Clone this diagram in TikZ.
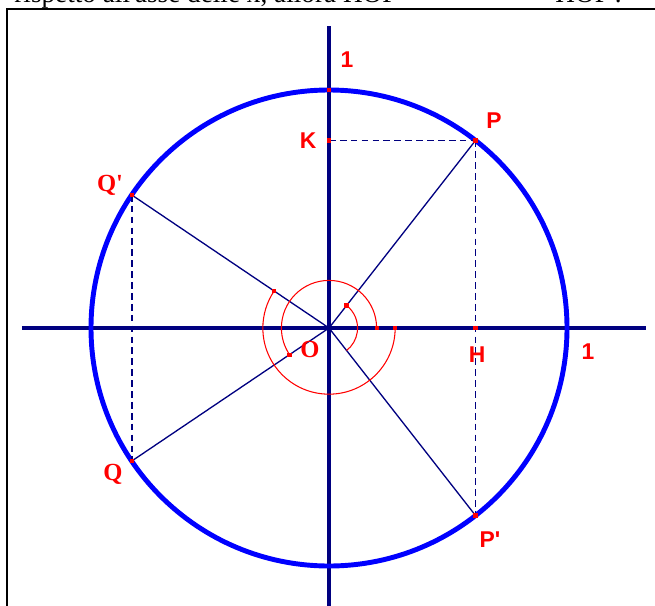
\documentclass[tikz,border=0pt]{standalone}
\usepackage{fontspec}
\setmainfont{Liberation Serif}
\setsansfont{Liberation Sans}
\usetikzlibrary{calc}

\definecolor{navyb}{RGB}{0,0,128}
\definecolor{circb}{RGB}{0,0,255}

\begin{document}
\begin{tikzpicture}[x=4.76cm,y=4.76cm,
    axis/.style={draw=navyb,line width=2.3pt},
    seg/.style={draw=navyb,line width=0.75pt},
    dsh/.style={draw=navyb,line width=1pt,dash pattern=on 3.8pt off 2.4pt},
    ang/.style={draw=red,line width=0.6pt},
    dotq/.style={fill=red,inner sep=0pt,minimum size=2.4pt},
    lab/.style={text=red,font=\sffamily\bfseries\fontsize{13}{15}\selectfont},
    labq/.style={text=red,font=\rmfamily\bfseries\fontsize{14}{16}\selectfont}]

    \clip (-1.3824,-1.1639) rectangle (1.3697,1.3782);

    % line of text cut by the top edge
    \node[anchor=base west,inner sep=0pt,font=\fontsize{15.5}{17}\selectfont] (txta) at (-1.3235,1.367) {rispetto all\textquotesingle asse delle x, allora HOP};
    \node[anchor=base west,inner sep=0pt,font=\fontsize{15.5}{17}\selectfont] (txtb) at (0.950,1.367) {HOP\textquotesingle.};

    % frame
    \draw[line width=1.1pt] (-1.353,-1.5) -- (-1.353,1.34) -- (1.5,1.34);

    \coordinate (O) at (0,0);
    \coordinate (P) at (52:1);
    \coordinate (P') at (-52:1);
    \coordinate (Q') at (146:1);
    \coordinate (Q) at (214:1);
    \coordinate (K) at (O|-P);
    \coordinate (H) at (P|-O);
    \coordinate (T) at (0,1);

    % axes and unit circle
    \draw[axis] (-1.29,0) -- (1.33,0);
    \draw[axis] (0,-1.3) -- (0,1.27);
    \draw[draw=circb,line width=2.8pt] (O) circle (1);

    % radii
    \draw[seg] (O) -- (P);
    \draw[seg] (O) -- (P');
    \draw[seg] (O) -- (Q');
    \draw[seg] (O) -- (Q);

    % projections
    \draw[dsh] (K) -- (P);
    \draw[dsh] (P) -- (H) -- (P');
    \draw[dsh] (Q') -- (Q);

    % angle arcs
    \draw[ang] (52:0.12) arc[start angle=52,end angle=-52,radius=0.12];
    \draw[ang] (0:0.2) arc[start angle=0,end angle=214,radius=0.2];
    \draw[ang] (0:0.278) arc[start angle=0,end angle=-214,radius=0.278];
    \node[dotq] (a1) at (52:0.12) {};
    \node[dotq] (a2) at (0:0.2) {};
    \node[dotq] (a3) at (214:0.2) {};
    \node[dotq] (a4) at (0:0.278) {};
    \node[dotq] (a5) at (146:0.278) {};

    % points
    \foreach \p in {P,P',Q',Q,K,H,T}
      \node[dotq] at (\p) {};

    % labels
    \node[lab] (l1) at (0.076,1.126) {1};
    \node[lab] (l2) at (1.088,-0.101) {1};
    \node[lab] (lK) at (-0.088,0.786) {K};
    \node[lab] (lP) at (0.693,0.870) {P};
    \node[lab] (lP') at (0.676,-0.891) {P\textquotesingle};
    \node[lab] (lH) at (0.622,-0.113) {H};
    \node[labq] (lQ') at (-0.920,0.601) {Q\textquotesingle};
    \node[labq] (lQ) at (-0.908,-0.613) {Q};
    \node[labq] (lO) at (-0.080,-0.092) {O};
\end{tikzpicture}
\end{document}
